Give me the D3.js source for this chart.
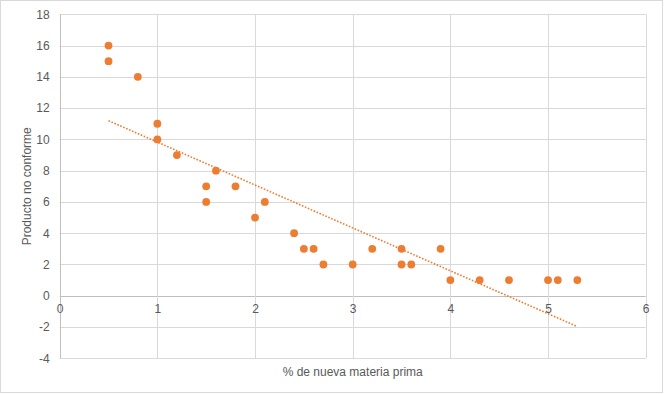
<!DOCTYPE html>
<html><head><meta charset="utf-8">
<script src="https://cdn.jsdelivr.net/npm/d3@7"></script>
<style>body{margin:0;background:#fff}svg{display:block}</style>
</head><body><svg id="c" width="664" height="394"></svg>
<script>
const xValues = [0.5,0.5,0.8,1,1,1.2,1.5,1.5,1.6,1.8,2,2.1,2.4,2.5,2.6,2.7,3,3.2,3.5,3.5,3.6,3.9,4,4.3,4.6,5,5.1,5.3];
const yValues = [16,15,14,11,10,9,7,6,8,7,5,6,4,3,3,2,2,3,3,2,2,3,1,1,1,1,1,1];
const xTicks = [0,1,2,3,4,5,6];
const yTicks = [-4,-2,0,2,4,6,8,10,12,14,16,18];
const xTitle = "% de nueva materia prima";
const yTitle = "Producto no conforme";

const svg = d3.select("#c");
const font = "Liberation Sans, Arial, sans-serif";
const color = "#ED7D31";
const x = d3.scaleLinear().domain([0,6]).range([59.7,645.7]);
const y = d3.scaleLinear().domain([-4,18]).range([358.3,14.3]);

svg.append("rect").attr("x",0.5).attr("y",0.5).attr("width",662).attr("height",392)
  .attr("fill","#fff").attr("stroke","#d9d9d9");

// gridlines
svg.append("g").selectAll("line").data(yTicks).join("line")
  .attr("x1",x(0)).attr("x2",x(6)).attr("y1",d=>Math.round(y(d))+0.5).attr("y2",d=>Math.round(y(d))+0.5)
  .attr("stroke",d=>d===0?"#bfbfbf":"#d9d9d9").attr("stroke-width",1);
svg.append("g").selectAll("line").data(xTicks).join("line")
  .attr("y1",y(-4)).attr("y2",y(18)).attr("x1",d=>Math.round(x(d))+0.5).attr("x2",d=>Math.round(x(d))+0.5)
  .attr("stroke",d=>d===0?"#bfbfbf":"#d9d9d9").attr("stroke-width",1);

const fmt = d => String(d);
// y axis labels
const yAxis = d3.axisLeft(y).tickValues(yTicks).tickFormat(fmt).tickSize(0).tickPadding(10);
const gy = svg.append("g").attr("transform",`translate(${x(0)},0)`).call(yAxis);
gy.select(".domain").remove();
gy.selectAll("text").attr("fill","#595959").style("font-family",font).style("font-size","12px");

// x axis labels at zero line
const xAxis = d3.axisBottom(x).tickValues(xTicks).tickFormat(fmt).tickSize(0).tickPadding(9);
const gx = svg.append("g").attr("transform",`translate(0,${y(0)})`).call(xAxis);
gx.select(".domain").remove();
gx.selectAll("text").attr("fill","#595959").style("font-family",font).style("font-size","12px");

// trendline (least squares)
const n = xValues.length;
const mx = d3.mean(xValues), my = d3.mean(yValues);
let sxy=0,sxx=0;
for(let i=0;i<n;i++){sxy+=(xValues[i]-mx)*(yValues[i]-my);sxx+=(xValues[i]-mx)**2;}
const slope = sxy/sxx, icpt = my - slope*mx;
const [x0,x1] = d3.extent(xValues);
svg.append("line").attr("x1",x(x0)).attr("y1",y(icpt+slope*x0)).attr("x2",x(x1)).attr("y2",y(icpt+slope*x1))
  .attr("stroke",color).attr("stroke-width",1.6).attr("stroke-dasharray","1.6,1.6");

// points
svg.append("g").selectAll("circle").data(xValues.map((v,i)=>[v,yValues[i]])).join("circle")
  .attr("cx",d=>x(d[0])).attr("cy",d=>y(d[1])).attr("r",3.9).attr("fill",color);

// titles
svg.append("text").attr("x",(x(0)+x(6))/2).attr("y",376).attr("text-anchor","middle")
  .attr("fill","#595959").style("font-family",font).style("font-size","12px").text(xTitle);
svg.append("text").attr("transform",`translate(31,${(y(18)+y(-4))/2}) rotate(-90)`).attr("text-anchor","middle")
  .attr("fill","#595959").style("font-family",font).style("font-size","12px").text(yTitle);
</script></body></html>
